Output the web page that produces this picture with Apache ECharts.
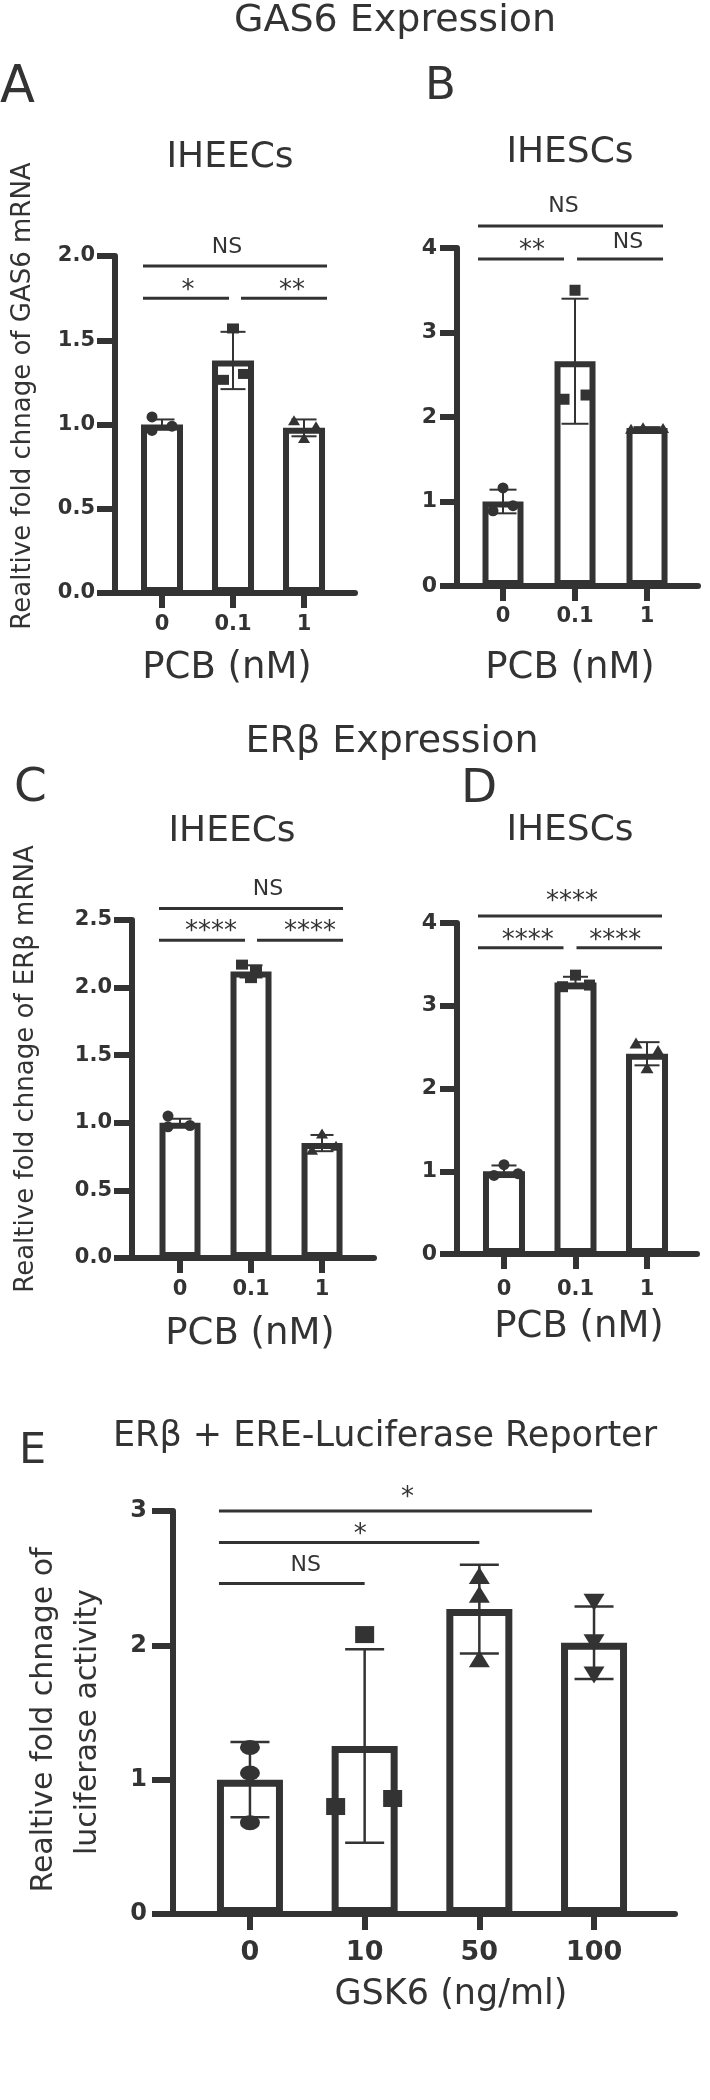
<!DOCTYPE html>
<html>
<head>
<meta charset="utf-8">
<title>GAS6 / ERb expression</title>
<script src="https://cdn.jsdelivr.net/npm/echarts@6/dist/echarts.min.js"></script>
<style>
  html, body { margin: 0; padding: 0; background: #fff; }
  #chart { width: 710px; height: 2100px; }
</style>
</head>
<body>
<div id="chart"></div>
<script>
// categories (x tick labels)
var pcbDoses = ['0', '0.1', '1'];
var gskDoses = ['0', '10', '50', '100'];

// A - GAS6 mRNA, IHEECs
var gasEecMean = [1.00, 1.38, 0.98];
var gasEecSd = [0.03, 0.17, 0.05];
var gasEecPts = [[1.045, 0.965, 0.99], [1.57, 1.265, 1.30], [1.025, 0.99, 0.92]];
var gasEecSig = [[0, 2, 'NS'], [0, 1, '*'], [1, 2, '**']];

// B - GAS6 mRNA, IHESCs
var gasEscMean = [1.00, 2.66, 1.87];
var gasEscSd = [0.14, 0.74, 0.01];
var gasEscPts = [[1.16, 0.89, 0.95], [3.50, 2.21, 2.26], [1.86, 1.88, 1.87]];
var gasEscSig = [[0, 2, 'NS'], [0, 1, '**'], [1, 2, 'NS']];

// C - ERb mRNA, IHEECs
var erbEecMean = [1.00, 2.12, 0.85];
var erbEecSd = [0.03, 0.045, 0.06];
var erbEecPts = [[1.05, 0.97, 0.98], [2.17, 2.13, 2.07], [0.92, 0.80, 0.83]];
var erbEecSig = [[0, 2, 'NS'], [0, 1, '****'], [1, 2, '****']];

// D - ERb mRNA, IHESCs
var erbEscMean = [1.00, 3.28, 2.42];
var erbEscSd = [0.07, 0.07, 0.14];
var erbEscPts = [[1.08, 0.95, 0.97], [3.37, 3.23, 3.25], [2.55, 2.46, 2.25]];
var erbEscSig = [[0, 2, '****'], [0, 1, '****'], [1, 2, '****']];

// E - ERE luciferase reporter
var lucMean = [1.00, 1.25, 2.27, 2.02];
var lucSd = [0.28, 0.72, 0.33, 0.27];
var lucPts = [[1.24, 1.05, 0.68], [2.08, 0.80, 0.86], [2.52, 2.38, 1.90], [2.32, 2.02, 1.78]];
var lucSig = [[0, 3, '*'], [0, 2, '*'], [0, 1, 'NS']];

// y axis ranges [max, step]
var gasEecY = [2, 0.5];
var gasEscY = [4, 1];
var erbEecY = [2.5, 0.5];
var erbEscY = [4, 1];
var lucY = [3, 1];

var INK = '#333';
var FONT = "'DejaVu Sans', sans-serif";

// layout + style per panel
var panels = [
  {
    cats: pcbDoses, mean: gasEecMean, sd: gasEecSd, pts: gasEecPts, sig: gasEecSig, y: gasEecY, yDec: 1,
    grid: { left: 115, top: 256, width: 240, height: 337 }, xMin: -0.662, xMax: 2.718,
    ySize: 21, xSize: 21, yTick: 18, xTick: 15, yMargin: 20, xMargin: 21,
    barWidth: 42, border: 6, capW: 25, errW: 2,
    sym: ['circle', 'rect', 'triangle'], symSize: [11, [12, 10], [12, 10]],
    spread: [[-10, -10, 10], [0, -10, 11], [-10, 12, 0]],
    sigLevel: [1.94, 1.75, 1.75], sigDx: [-8, 2, 8], sigLift: [19, 6.5, 6.5], pad: [-19, 23, -4, 8]
  },
  {
    cats: pcbDoses, mean: gasEscMean, sd: gasEscSd, pts: gasEscPts, sig: gasEscSig, y: gasEscY, yDec: 0,
    grid: { left: 457, top: 248, width: 241, height: 338 }, xMin: -0.639, xMax: 2.708,
    ySize: 22, xSize: 21, yTick: 17, xTick: 15, yMargin: 20, xMargin: 20,
    barWidth: 41, border: 6, capW: 27, errW: 2,
    sym: ['circle', 'rect', 'triangle'], symSize: [11, 11, [12, 10]],
    spread: [[0, -10, 10], [0, -11, 11], [-16, -4, 16]],
    sigLevel: [4.26, 3.87, 3.87], sigDx: [-7, 11, 8], sigLift: [19.5, 7.4, 17], pad: [-25, 16, -11, 2]
  },
  {
    cats: pcbDoses, mean: erbEecMean, sd: erbEecSd, pts: erbEecPts, sig: erbEecSig, y: erbEecY, yDec: 1,
    grid: { left: 132, top: 920, width: 242, height: 338 }, xMin: -0.676, xMax: 2.732,
    ySize: 21, xSize: 21, yTick: 18, xTick: 15, yMargin: 20, xMargin: 21,
    barWidth: 41, border: 6, capW: 23, errW: 2,
    sym: ['circle', 'rect', 'triangle'], symSize: [11, [12, 10], [12, 10]],
    spread: [[-12, -12, 10], [-9, 5, 0], [0, -10, 14]],
    sigLevel: [2.585, 2.35, 2.35], sigDx: [17, 9, 10], sigLift: [19, 8.4, 8.4], pad: [-21, 21, -6, 6]
  },
  {
    cats: pcbDoses, mean: erbEscMean, sd: erbEscSd, pts: erbEscPts, sig: erbEscSig, y: erbEscY, yDec: 0,
    grid: { left: 457, top: 923, width: 240, height: 331 }, xMin: -0.657, xMax: 2.699,
    ySize: 22, xSize: 21, yTick: 17, xTick: 15, yMargin: 20, xMargin: 25,
    barWidth: 42, border: 6, capW: 25, errW: 2,
    sym: ['circle', 'rect', 'triangle'], symSize: [11, 11, [13, 11]],
    spread: [[0, -10, 14], [0, -13, 14], [-11, 11, 0]],
    sigLevel: [4.085, 3.70, 3.70], sigDx: [2, 7, -4], sigLift: [13.4, 6.4, 6.4], pad: [-26, 15, -12, 1]
  },
  {
    cats: gskDoses, mean: lucMean, sd: lucSd, pts: lucPts, sig: lucSig, y: lucY, yDec: 0,
    grid: { left: 173, top: 1511, width: 502, height: 403 }, xMin: -0.671, xMax: 3.706,
    ySize: 24, xSize: 27, yTick: 21, xTick: 16, yMargin: 26, xMargin: 25,
    barWidth: 66, border: 7, capW: 39, errW: 2.5,
    sym: ['circle', 'rect', 'triangle', 'triangle'], symRot: [0, 0, 0, 180],
    symSize: [[20, 15], [19, 17], [21, 17], [21, 17]],
    spread: [[0, 0, 0], [0, -29, 28], [0, 0, 0], [0, 0, 0]],
    sigLevel: [3.0, 2.766, 2.46], sigDx: [2, 11, 14], sigLift: [12.4, 7.4, 18], pad: [-31, -2, 0, 0]
  }
];

var grids = [], xAxes = [], yAxes = [], series = [];

panels.forEach(function (p, i) {
  var idx = p.cats.map(function (c, k) { return k; });
  var last = p.cats.length - 1;

  grids.push(p.grid);

  xAxes.push({
    gridIndex: i, type: 'value', min: p.xMin, max: p.xMax,
    axisLine: { show: true, onZero: false, lineStyle: { color: INK, width: 6 } },
    axisTick: { show: true, customValues: idx, length: p.xTick, lineStyle: { color: INK, width: 6 } },
    axisLabel: {
      customValues: idx, margin: p.xMargin, color: INK, fontWeight: 'bold',
      fontSize: p.xSize, fontFamily: FONT,
      formatter: function (v) { return p.cats[Math.round(v)]; }
    },
    splitLine: { show: false }
  });

  yAxes.push({
    gridIndex: i, type: 'value', min: 0, max: p.y[0], interval: p.y[1],
    axisLine: { show: true, onZero: false, lineStyle: { color: INK, width: 6 } },
    axisTick: { show: true, length: p.yTick, lineStyle: { color: INK, width: 6 } },
    axisLabel: {
      margin: p.yMargin, color: INK, fontWeight: 'bold', fontSize: p.ySize, fontFamily: FONT,
      formatter: function (v) { return v.toFixed(p.yDec); }
    },
    splitLine: { show: false }
  });

  // bars
  series.push({
    type: 'bar', xAxisIndex: i, yAxisIndex: i, barWidth: p.barWidth, z: 2, silent: true,
    data: p.mean.map(function (m, k) { return [k, m]; }),
    itemStyle: { color: '#fff', borderColor: INK, borderWidth: p.border }
  });

  // SD error bars
  series.push({
    type: 'custom', xAxisIndex: i, yAxisIndex: i, z: 3, silent: true,
    encode: { x: 0, y: 1 },
    data: p.mean.map(function (m, k) { return [k, m, p.sd[k]]; }),
    renderItem: function (params, api) {
      var x = api.value(0), m = api.value(1), s = api.value(2);
      var hi = api.coord([x, m + s]), lo = api.coord([x, m - s]);
      var h = p.capW / 2;
      var st = { stroke: INK, lineWidth: p.errW };
      return {
        type: 'group',
        children: [
          { type: 'line', shape: { x1: hi[0], y1: hi[1], x2: lo[0], y2: lo[1] }, style: st },
          { type: 'line', shape: { x1: hi[0] - h, y1: hi[1], x2: hi[0] + h, y2: hi[1] }, style: st },
          { type: 'line', shape: { x1: lo[0] - h, y1: lo[1], x2: lo[0] + h, y2: lo[1] }, style: st }
        ]
      };
    }
  });

  // replicate points
  var dots = [];
  p.pts.forEach(function (group, k) {
    group.forEach(function (v, j) {
      dots.push({
        value: [k, v],
        symbol: p.sym[k],
        symbolSize: p.symSize[k],
        symbolRotate: p.symRot ? p.symRot[k] : 0,
        symbolOffset: [p.spread[k][j], 0]
      });
    });
  });
  series.push({
    type: 'scatter', xAxisIndex: i, yAxisIndex: i, z: 4, silent: true,
    itemStyle: { color: INK, opacity: 1 },
    data: dots
  });

  // significance brackets
  series.push({
    type: 'custom', xAxisIndex: i, yAxisIndex: i, z: 4, silent: true,
    encode: { x: 0, y: 1 },
    data: p.sig.map(function (b, k) { return [b[0], p.sigLevel[k], k]; }),
    renderItem: function (params, api) {
      var k = api.value(2);
      var b = p.sig[k];
      var y = api.coord([0, p.sigLevel[k]])[1];
      var x1 = api.coord([b[0], 0])[0] + (b[0] === 0 ? p.pad[0] : p.pad[3]);
      var x2 = api.coord([b[1], 0])[0] + (b[1] === last ? p.pad[1] : p.pad[2]);
      var ns = b[2] === 'NS';
      return {
        type: 'group',
        children: [
          { type: 'line', shape: { x1: x1, y1: y, x2: x2, y2: y }, style: { stroke: INK, lineWidth: 3 } },
          {
            type: 'text', x: (x1 + x2) / 2 + p.sigDx[k], y: y - p.sigLift[k],
            style: {
              text: b[2], fill: INK, fontFamily: FONT, fontSize: ns ? 22 : 26,
              align: 'center', verticalAlign: 'middle'
            }
          }
        ]
      };
    }
  });
});

function label(text, x, y, size, opts) {
  opts = opts || {};
  return {
    type: 'text', x: x, y: y, rotation: opts.rot || 0, silent: true,
    style: {
      text: text, fill: INK, fontFamily: FONT, fontSize: size,
      align: opts.align || 'center', verticalAlign: 'middle'
    }
  };
}

var up = Math.PI / 2;
var graphics = [
  label('GAS6 Expression', 395, 21, 38),
  label('A', 0, 89, 51, { align: 'left' }),
  label('B', 425, 87, 45, { align: 'left' }),
  label('IHEECs', 230, 158, 36),
  label('IHESCs', 570, 153, 36),
  label('Realtive fold chnage of GAS6 mRNA', 23, 396, 26, { rot: up }),
  label('PCB (nM)', 227, 668, 37),
  label('PCB (nM)', 570, 668, 37),

  label('ER\u03B2 Expression', 392, 742, 38),
  label('C', 14, 789, 47, { align: 'left' }),
  label('D', 461, 790, 47, { align: 'left' }),
  label('IHEECs', 232, 832, 36),
  label('IHESCs', 570, 831, 36),
  label('Realtive fold chnage of ER\u03B2 mRNA', 26, 1069, 26, { rot: up }),
  label('PCB (nM)', 250, 1334, 37),
  label('PCB (nM)', 579, 1327, 37),

  label('E', 19, 1452, 43, { align: 'left' }),
  label('ER\u03B2 + ERE-Luciferase Reporter', 385, 1437, 35),
  label('Realtive fold chnage of', 44, 1720, 30, { rot: up }),
  label('luciferase activity', 88, 1722, 30, { rot: up }),
  label('GSK6 (ng/ml)', 451, 1995, 35)
];

var chart = echarts.init(document.getElementById('chart'));
chart.setOption({
  animation: false,
  backgroundColor: '#fff',
  grid: grids,
  xAxis: xAxes,
  yAxis: yAxes,
  series: series,
  graphic: graphics
});
</script>
</body>
</html>
